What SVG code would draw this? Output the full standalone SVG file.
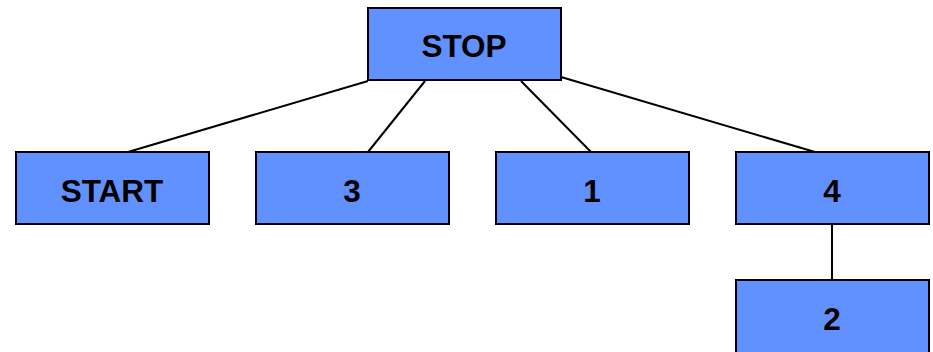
<svg xmlns="http://www.w3.org/2000/svg" width="933" height="352" viewBox="0 0 933 352">
<style>
.box{fill:#6190FF;stroke:#000;stroke-width:2}
.lbl{font-family:"Liberation Sans",Arial,sans-serif;font-weight:bold;font-size:31.5px;fill:#000;text-anchor:middle}
.edge{stroke:#000;stroke-width:2;fill:none}
</style>
<rect width="933" height="352" fill="#fff"/>
<g id="connectors">
<line class="edge" x1="368" y1="81" x2="128" y2="152"/>
<line class="edge" x1="425" y1="81" x2="368" y2="152"/>
<line class="edge" x1="521" y1="81" x2="591" y2="152"/>
<line class="edge" x1="561" y1="77" x2="815" y2="152"/>
<line class="edge" x1="832" y1="224" x2="832" y2="280"/>
</g>
<g id="node-stop"><rect class="box" x="368" y="8" width="193" height="72"/><text class="lbl" x="464" y="57">STOP</text></g>
<g id="node-start"><rect class="box" x="16" y="152" width="193" height="72"/><text class="lbl" x="112" y="202">START</text></g>
<g id="node-3"><rect class="box" x="256" y="152" width="193" height="72"/><text class="lbl" x="352" y="202">3</text></g>
<g id="node-1"><rect class="box" x="496" y="152" width="193" height="72"/><text class="lbl" x="592" y="202">1</text></g>
<g id="node-4"><rect class="box" x="736" y="152" width="193" height="72"/><text class="lbl" x="832" y="202">4</text></g>
<g id="node-2"><rect class="box" x="736" y="280" width="193" height="80"/><text class="lbl" x="832" y="330">2</text></g>
</svg>
